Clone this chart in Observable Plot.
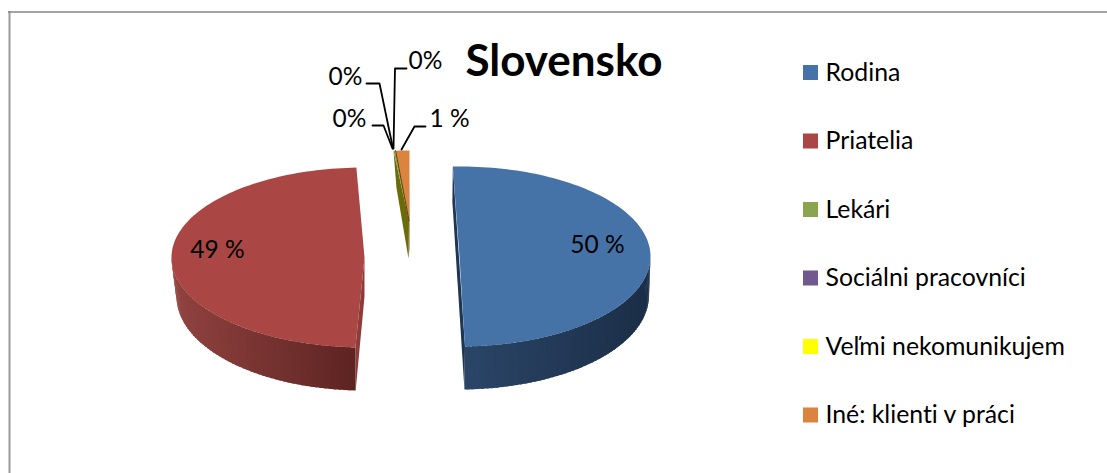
<!DOCTYPE html>
<html>
<head>
<meta charset="utf-8">
<script src="https://cdn.jsdelivr.net/npm/d3@7"></script>
<script src="https://cdn.jsdelivr.net/npm/@observablehq/plot@0.6"></script>
<style>html,body{margin:0;padding:0;background:#fff}svg{display:block}svg text{font-variant-ligatures:none}</style>
</head>
<body>
<div id="chart"></div>
<script>
// data
const categories = ["Rodina","Priatelia","Lekári","Sociálni pracovníci","Veľmi nekomunikujem","Iné: klienti v práci"];
const values = [50.1, 48.58, 0.13, 0.02, 0.02, 1.15];
const valueLabels = ["50 %","49 %","0%","0%","0%","1 %"];
const chartTitle = "Slovensko";
// styles
const colors = ["#4572A7","#AA4643","#89A54E","#71588F","#FFFF00","#DB843D"];
const FONT = "Lato";
// layout (pixel space of the chart frame)
const startAngle = -2;
const angleShift = [0, 4.34, 2.15, 2.15, 2.15, 2.15];
const cxTop = [459, 364, 408.5, 408.5, 408.5, 408.5];
const cyTop = [256, 257, 220, 220, 220, 220];
const rxTop = [191, 193, 193, 193, 193, 193];
const ryTop = [90, 90, 70, 70, 70, 70];
const cxBot = [458.5, 364, 408, 408, 408, 408];
const cyBot = [295, 296, 258, 258, 258, 258];
const rxBot = [190, 188, 150, 150, 150, 150];
const ryBot = [94, 94, 71, 71, 71, 71];
const labelX = [597, 217, 349, 345, 425, 449];
const labelY = [245, 250, 119, 77, 61, 119];
const leaderX = [null, null, [372,383,392], [366,379,392.5], [406,394.5,393], [425,414,401]];
const leaderY = [null, null, [125,125,148], [83,83,148], [68,68,148], [126,126,149]];
const legendY = [72.5, 141, 209.5, 278, 346.5, 415];

const total = d3.sum(values);
let acc = 0;
const slices = values.map((v, i) => {
  const a0 = startAngle + acc * 360 / total + angleShift[i];
  acc += v;
  const a1 = startAngle + acc * 360 / total + angleShift[i];
  return {i, category: categories[i], a0, a1};
});
const rad = a => a * Math.PI / 180;
const ptTop = (i, a) => ({x: cxTop[i] + rxTop[i] * Math.sin(rad(a)), y: cyTop[i] - ryTop[i] * Math.cos(rad(a))});
const ptBot = (i, a) => ({x: cxBot[i] + rxBot[i] * Math.sin(rad(a)), y: cyBot[i] - ryBot[i] * Math.cos(rad(a))});
const cTop = i => ({x: cxTop[i], y: cyTop[i]});
const cBot = i => ({x: cxBot[i], y: cyBot[i]});

function face(s) {
  const pts = [cTop(s.i)];
  const n = Math.max(2, Math.ceil((s.a1 - s.a0) / 1.5));
  for (let k = 0; k <= n; k++) pts.push(ptTop(s.i, s.a0 + (s.a1 - s.a0) * k / n));
  return pts.map(p => ({...p, category: s.category}));
}
// the curved wall, as overlapping bands so that no seam shows between them
function strips(s, from, to, c0, c1) {
  const out = [];
  const n = Math.ceil(Math.abs(to - from) / 1.5);
  const step = (to - from) / n;
  for (let k = 0; k < n; k++) {
    const a = from + step * k;
    const b = k === n - 1 ? to : a + step * 1.6;
    const f = (ptTop(s.i, a).x - c0.x) / (c1.x - c0.x);
    const col = d3.interpolateRgb(c0.c, c1.c)(Math.max(0, Math.min(1, f)));
    for (const p of [ptTop(s.i, a), ptTop(s.i, b), ptBot(s.i, b), ptBot(s.i, a)]) out.push({...p, id: s.i * 1000 + k, col});
  }
  return out;
}
const poly = (pts, fill) => Plot.line(pts, {x: "x", y: "y", fill, stroke: "none"});

const [blue, red, lek, soc, vel, ine] = slices;

const blueWall = strips(blue, 90, blue.a1, {x: 650, c: "#1b2e47"}, {x: 466, c: "#2b4568"});
const redWall = strips(red, red.a0, 270, {x: 355, c: "#5e2422"}, {x: 171, c: "#914340"});
const stripMark = d => Plot.line(d, {x: "x", y: "y", z: "id", fill: {value: "col", scale: null}, stroke: "none"});

const marks = [
  // frame
  Plot.ruleX([9], {y1: 11, y2: 473, stroke: "#999999", strokeWidth: 2}),
  Plot.ruleY([11.5], {x1: 8, x2: 1107, stroke: "#868686", strokeWidth: 1.5}),
  // thin slices: walls
  poly([ptTop(2, lek.a0), cTop(2), cBot(2), ptBot(2, lek.a0)], "#6b6b08"),
  poly([ptTop(5, ine.a1), cTop(5), cBot(5), {x: cBot(5).x + 1, y: cBot(5).y - 10}], "#8a5a1c"),
  // big slices: walls
  poly([ptTop(0, blue.a0), ptTop(0, blue.a1), ptBot(0, blue.a1), ptBot(0, blue.a0)], "#1e3553"),
  stripMark(blueWall),
  poly([cTop(1), ptTop(1, red.a0), ptBot(1, red.a0), cBot(1)], "#8f3b3a"),
  stripMark(redWall),
  // top faces, through the colour scale
  ...slices.map(s => Plot.line(face(s), {x: "x", y: "y", fill: "category", stroke: "none"})),
  // edge of the small wedge
  Plot.line([ptTop(5, ine.a0), cTop(5)], {x: "x", y: "y", stroke: "#5e3c12", strokeWidth: 1}),
  // leaders
  ...leaderX.map((xs, i) => xs ? Plot.line(xs.map((x, k) => ({x, y: leaderY[i][k]})), {x: "x", y: "y", stroke: "#000", strokeWidth: 1.8}) : null).filter(Boolean),
  // data labels
  Plot.text(valueLabels, {x: (d, i) => labelX[i], y: (d, i) => labelY[i], text: d => d, fontSize: 24.5, fontFamily: FONT, fill: "#000"}),
  // title
  Plot.text([chartTitle], {x: [563.5], y: [61], text: d => d, fontSize: 44, fontWeight: 700, fontFamily: FONT, fill: "#000"}),
  // legend
  Plot.rect(categories, {x1: () => 803, x2: () => 818, y1: (d, i) => legendY[i] - 7.5, y2: (d, i) => legendY[i] + 7.5, fill: d => d}),
  Plot.text(categories, {x: () => 825, y: (d, i) => legendY[i], text: d => d, textAnchor: "start", fontSize: 24.8, fontFamily: FONT, fill: "#000"})
];

const chart = Plot.plot({
  width: 1107, height: 473, margin: 0,
  x: {axis: null, domain: [0, 1107], range: [0, 1107]},
  y: {axis: null, domain: [0, 473], range: [0, 473]},
  color: {type: "ordinal", domain: categories, range: colors},
  marks
});
document.getElementById("chart").append(chart);
</script>
</body>
</html>
